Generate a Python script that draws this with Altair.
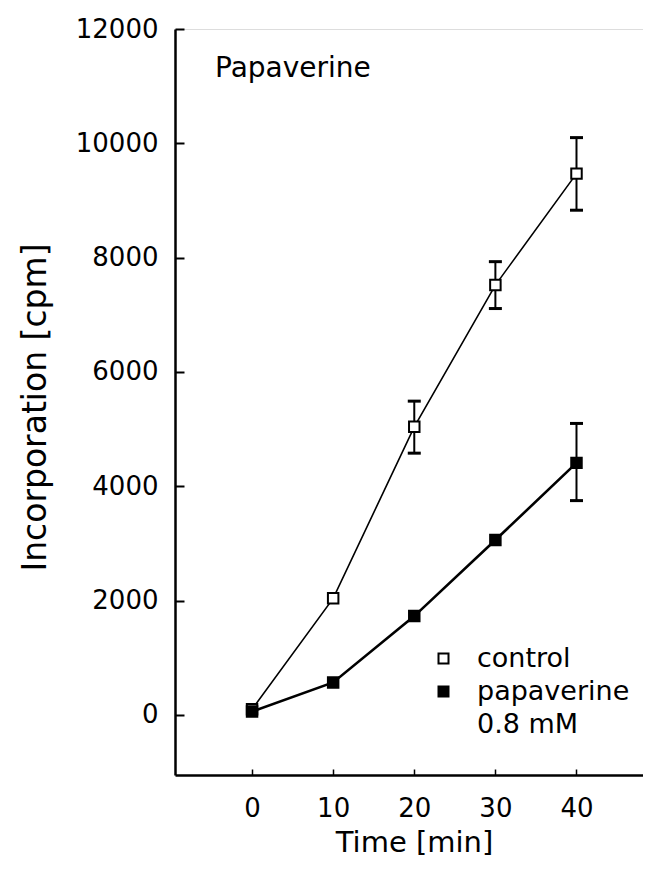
import altair as alt
import pandas as pd

# ---- data ----
time_min = [0, 10, 20, 30, 40]
control_cpm = [100, 2040, 5040, 7520, 9470]
control_low = [None, None, 4580, 7110, 8830]
control_high = [None, None, 5490, 7930, 10100]
papaverine_cpm = [60, 570, 1730, 3060, 4410]
papaverine_low = [None, None, None, None, 3750]
papaverine_high = [None, None, None, None, 5100]
series_names = ["control", "papaverine"]
x_ticks = [0, 10, 20, 30, 40]
y_ticks = [0, 2000, 4000, 6000, 8000, 10000, 12000]
panel_label = "Papaverine"

rows = []
for name, vals, lo, hi in [
    ("control", control_cpm, control_low, control_high),
    ("papaverine", papaverine_cpm, papaverine_low, papaverine_high),
]:
    for t, v, l, h in zip(time_min, vals, lo, hi):
        rows.append(dict(time=t, cpm=v, lo=l, hi=h, series=name))
df = pd.DataFrame(rows)
err = df.dropna(subset=["lo"]).copy()

FONT = "DejaVu Sans"
W, H = 468, 746

x_scale = alt.Scale(domain=[-9.5, 48.2], nice=False, zero=False)
y_scale = alt.Scale(domain=[-1050, 12000], nice=False, zero=False)

x_axis = alt.Axis(
    values=x_ticks, title="Time [min]", ticks=False, format="d",
    domainColor="black", domainWidth=2.5,
    labelFont=FONT, labelFontSize=26, labelColor="black", labelPadding=20,
    grid=True, gridColor="black", gridWidth=1.5, gridOpacity=1,
    gridDash=[0, H - 6, 6, 3000],
    titleFont=FONT, titleFontSize=29, titleFontWeight="normal", titleColor="black",
    titleX=239, titleY=76, titleBaseline="alphabetic", titleAlign="center",
)
y_axis = alt.Axis(
    values=y_ticks, title="Incorporation [cpm]", ticks=False, format="d",
    domainColor="black", domainWidth=2.5,
    labelFont=FONT, labelFontSize=26, labelColor="black", labelPadding=17,
    grid=True, gridColor="black", gridWidth=2, gridOpacity=1,
    gridDash=[9, 3000],
    titleFont=FONT, titleFontSize=33, titleFontWeight="normal", titleColor="black",
    titleX=-140, titleY=378, titleBaseline="middle", titleAlign="center", titleAngle=270,
)


def X(field="time"):
    return alt.X(f"{field}:Q", scale=x_scale, axis=x_axis)


def Y(field="cpm"):
    return alt.Y(f"{field}:Q", scale=y_scale, axis=y_axis)


err_rules = alt.Chart(err).mark_rule(color="black", strokeWidth=2, opacity=1).encode(
    x=X(), y=Y("lo"), y2="hi:Q"
)
caps = (
    alt.Chart(err)
    .transform_fold(["lo", "hi"], as_=["end", "val"])
    .mark_tick(orient="horizontal", size=13, thickness=3, color="black", opacity=1)
    .encode(x=X(), y=Y("val"))
)
line_control = (
    alt.Chart(df)
    .transform_filter(alt.datum.series == "control")
    .mark_line(color="black", strokeWidth=1.6)
    .encode(x=X(), y=Y())
)
line_pap = (
    alt.Chart(df)
    .transform_filter(alt.datum.series == "papaverine")
    .mark_line(color="black", strokeWidth=2.6)
    .encode(x=X(), y=Y())
)
points = alt.Chart(df).mark_point(
    shape="square", filled=True, stroke="black", strokeWidth=2, size=110, opacity=1
).encode(
    x=X(), y=Y(),
    fill=alt.Fill(
        "series:N",
        scale=alt.Scale(domain=series_names, range=["white", "black"]),
        legend=alt.Legend(
            orient="none", legendX=255, legendY=616, title=None,
            symbolType="square", symbolSize=100, symbolStrokeColor="black",
            symbolStrokeWidth=2, symbolOpacity=1,
            labelFont=FONT, labelFontSize=27, labelColor="black",
            labelOffset=20, rowPadding=5, padding=0, labelLimit=400,
            labelExpr="datum.label == 'papaverine' ? ['papaverine', '0.8 mM'] : datum.label",
        ),
    ),
)
label = (
    alt.Chart(pd.DataFrame({"text": [panel_label]}))
    .mark_text(font=FONT, fontSize=28, color="black", align="left", baseline="middle")
    .encode(text="text:N", x=alt.value(40), y=alt.value(40))
)

chart = (
    alt.layer(err_rules, caps, line_control, line_pap, points, label)
    .properties(
        width=W, height=H,
        autosize=alt.AutoSizeParams(type="none"),
        padding={"left": 167, "top": 21, "right": 0, "bottom": 83},
    )
    .configure_view(stroke="black", strokeWidth=2)
    .configure(background="white", style={"guide-label": {"lineHeight": 33}})
)

chart.save("out.html", embed_options={"renderer": "svg", "actions": False})
